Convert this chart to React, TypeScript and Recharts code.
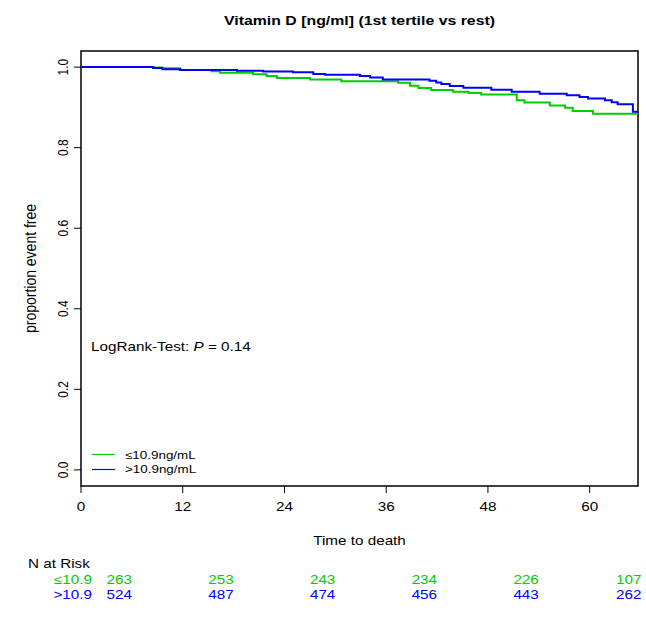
import React from "react";
import { LineChart, Line, XAxis, YAxis, ReferenceArea } from "recharts";

// ---- data ----
const lowTimes = [0, 8.5, 9.6, 11.7, 15.4, 16.4, 20.3, 21.9, 23.1, 27.0, 30.7, 37.4, 38.8, 39.8, 41.3, 43.9, 45.7, 47.2, 51.4, 52.3, 55.3, 57.1, 58.0, 60.4, 65.7];
const lowSurv = [1.0, 0.999, 0.997, 0.993, 0.99, 0.986, 0.982, 0.978, 0.973, 0.969, 0.965, 0.961, 0.954, 0.948, 0.943, 0.939, 0.936, 0.932, 0.918, 0.912, 0.905, 0.899, 0.891, 0.884, 0.884];
const highTimes = [0, 8.5, 9.6, 11.7, 18.4, 21.5, 25.0, 27.4, 28.8, 32.9, 34.1, 35.6, 41.1, 41.9, 42.5, 43.5, 45.1, 48.4, 50.8, 54.1, 57.3, 58.8, 59.8, 61.8, 62.6, 63.3, 65.1, 65.7];
const highSurv = [1.0, 0.998, 0.995, 0.993, 0.991, 0.989, 0.987, 0.983, 0.981, 0.978, 0.974, 0.969, 0.966, 0.962, 0.958, 0.953, 0.949, 0.944, 0.939, 0.934, 0.93, 0.926, 0.922, 0.918, 0.913, 0.908, 0.889, 0.889];
const xTicks = [0, 12, 24, 36, 48, 60];
const yTicks = [0, 0.2, 0.4, 0.6, 0.8, 1.0];
const groupLabels = ["≤10.9", ">10.9"];
const legendLabels = ["≤10.9ng/mL", ">10.9ng/mL"];
const riskLow = [263, 253, 243, 234, 226, 107];
const riskHigh = [524, 487, 474, 456, 443, 262];
const riskColumnTimes = [4.5, 16.5, 28.5, 40.5, 52.5, 64.6];

const lowData = lowTimes.map((t, i) => ({ t, s: lowSurv[i] }));
const highData = highTimes.map((t, i) => ({ t, s: highSurv[i] }));

const GREEN = "#00CD00";
const BLUE = "#0000FF";
const FONT = "'Liberation Sans', Arial, sans-serif";
const SX = 1.22; // horizontal stretch of the reference's lettering

const W = 646, H = 617;
const PL = 81, PT = 51, PR = 638, PB = 486;
const XMAX = 65.7, YMIN = -0.04, YMAX = 1.04;
const px = (t: number) => PL + (t / XMAX) * (PR - PL);

const SText = (p: any) => {
  const { x, y, rot, size = 12.5, anchor = "start", fill = "#000", weight, children } = p;
  const tr = `translate(${x},${y}) scale(${SX},1)${rot ? " rotate(-90)" : ""}`;
  return (
    <text transform={tr} x={0} y={0} textAnchor={anchor} fontSize={size} fontFamily={FONT} fill={fill} fontWeight={weight}>
      {children}
    </text>
  );
};

const YTick = (props: any) => {
  const { x, y, payload } = props;
  return <SText x={x - 4} y={y} rot anchor="middle" size={12}>{payload.value.toFixed(1)}</SText>;
};

const XTick = (props: any) => {
  const { x, y, payload } = props;
  return <SText x={x} y={y + 11} anchor="middle" size={12.5}>{payload.value}</SText>;
};

export default function App() {
  return (
    <div style={{ position: "absolute", left: 0, top: 0, width: W, height: H, background: "#fff" }}>
      <LineChart width={W} height={H} margin={{ top: PT, right: W - PR, bottom: H - PB - 30, left: PL - 50 }}>
        <XAxis
          dataKey="t"
          type="number"
          domain={[0, XMAX]}
          ticks={xTicks}
          allowDataOverflow
          height={30}
          axisLine={false}
          tickSize={7}
          tickMargin={7}
          tickLine={{ stroke: "#000", strokeWidth: 1 }}
          tick={<XTick />}
        />
        <YAxis
          type="number"
          domain={[YMIN, YMAX]}
          ticks={yTicks}
          allowDataOverflow
          width={50}
          axisLine={false}
          tickSize={7}
          tickMargin={2}
          tickLine={{ stroke: "#000", strokeWidth: 1 }}
          tick={<YTick />}
        />
        <ReferenceArea x1={0} x2={XMAX} y1={YMIN} y2={YMAX} fill="none" stroke="#000" strokeWidth={1.5} ifOverflow="visible" />
        <Line data={lowData} dataKey="s" type="stepAfter" stroke={GREEN} strokeWidth={2} dot={false} isAnimationActive={false} />
        <Line data={highData} dataKey="s" type="stepAfter" stroke={BLUE} strokeWidth={2} dot={false} isAnimationActive={false} />
      </LineChart>
      <svg width={W} height={H} style={{ position: "absolute", left: 0, top: 0, pointerEvents: "none" }}>
        <SText x={(PL + PR) / 2} y={25} anchor="middle" size={13} weight="bold">
          Vitamin D [ng/ml] (1st tertile vs rest)
        </SText>
        <SText x={36} y={(PT + PB) / 2} rot anchor="middle" size={14}>
          proportion event free
        </SText>
        <SText x={(PL + PR) / 2} y={545} anchor="middle" size={12.5}>
          Time to death
        </SText>
        <SText x={91} y={351} size={12.5}>
          LogRank-Test: <tspan fontStyle="italic">P</tspan> = 0.14
        </SText>
        <line x1={92} x2={115} y1={454.5} y2={454.5} stroke={GREEN} strokeWidth={1.2} />
        <line x1={92} x2={115} y1={469.5} y2={469.5} stroke={BLUE} strokeWidth={1.2} />
        <SText x={125} y={459} size={11}>{legendLabels[0]}</SText>
        <SText x={125} y={473} size={11}>{legendLabels[1]}</SText>
        <SText x={28} y={568} size={12.5}>N at Risk</SText>
        <SText x={92} y={584} size={12.5} anchor="end" fill={GREEN}>{groupLabels[0]}</SText>
        <SText x={92} y={599} size={12.5} anchor="end" fill={BLUE}>{groupLabels[1]}</SText>
        {riskLow.map((v, i) => (
          <SText key={"l" + i} x={px(riskColumnTimes[i])} y={584} size={12.5} anchor="middle" fill={GREEN}>{v}</SText>
        ))}
        {riskHigh.map((v, i) => (
          <SText key={"h" + i} x={px(riskColumnTimes[i])} y={599} size={12.5} anchor="middle" fill={BLUE}>{v}</SText>
        ))}
      </svg>
    </div>
  );
}
